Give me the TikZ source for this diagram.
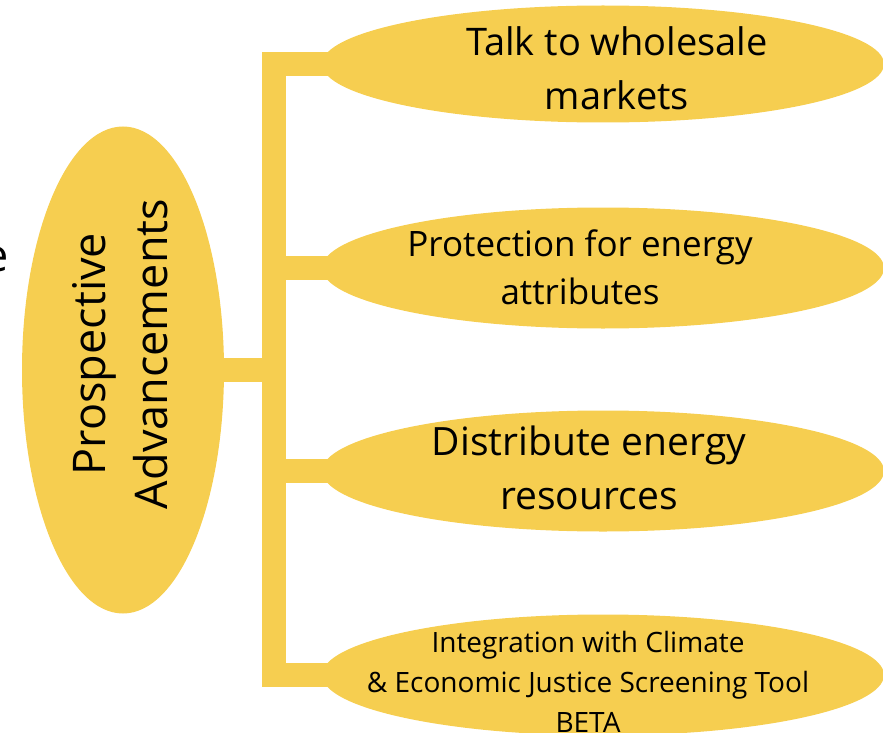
\documentclass[tikz,border=0pt]{standalone}
\usepackage{fontspec}
\setmainfont{Open Sans}
\usetikzlibrary{shapes.geometric}
\definecolor{gold}{RGB}{246,206,80}

\begin{document}
\begin{tikzpicture}[x=1pt, y=-1pt,
  leaf/.style={ellipse, fill=gold, minimum width=562pt, minimum height=121pt, inner sep=0pt},
  caption/.style={align=center, inner sep=0pt, text=black},
  link/.style={draw=gold, line width=24pt}]
  \useasboundingbox (0,0) rectangle (883,733);
  % connectors
  \coordinate (hub) at (274,370);
  \node[ellipse, fill=gold, minimum width=202pt, minimum height=487pt, inner sep=0pt] (adv) at (123,370) {};
  \node[leaf, minimum height=117pt] (market) at (603,64) {};
  \node[leaf] (protect) at (603,268) {};
  \node[leaf] (resource) at (603,471) {};
  \node[leaf] (screen) at (603,675) {};
  \draw[link] ([xshift=7pt]market.west) -| (hub) |- ([xshift=7pt]screen.west);
  \draw[link] (adv.center) -- (hub);
  \draw[link] (hub |- protect) -- ([xshift=7pt]protect.west);
  \draw[link] (hub |- resource) -- ([xshift=7pt]resource.west);
  % texts
  \node[caption, rotate=90, font=\fontsize{45}{62}\selectfont] (advtext) at (120,354) {Prospective\\Advancements};
  \node[caption, font=\fontsize{38}{54}\selectfont] (markettext) at (617,68) {Talk to wholesale\\markets};
  \node[caption, font=\fontsize{35}{48}\selectfont] (protecttext) at (580,267) {Protection for energy\\attributes};
  \node[caption, font=\fontsize{39}{54}\selectfont] (resourcetext) at (589,468) {Distribute energy\\resources};
  \node[caption, font=\fontsize{28}{40}\selectfont] (screentext) at (588,682) {Integration with Climate\\\& Economic Justice Screening Tool\\BETA};
  \node[caption, anchor=base east, font=\fontsize{45}{54}\selectfont] (cut) at (9,271) {e};
\end{tikzpicture}
\end{document}
